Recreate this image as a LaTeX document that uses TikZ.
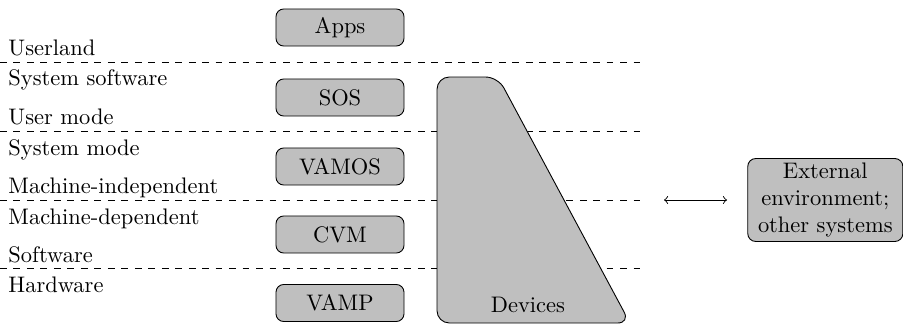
\documentclass[tikz,border=0pt]{standalone}
\begin{document}
\begin{tikzpicture}[x=0.445pt,y=-0.445pt,
  layerbox/.style={draw,fill=black!25,rounded corners=3.5pt,minimum width=57pt,minimum height=16.5pt,inner sep=0pt},
  sep/.style={dashed},
  lbl/.style={anchor=base west,inner sep=0pt}]
\useasboundingbox (0,0) rectangle (903,325);

% layer separators
\foreach \yy/\nm in {62.5/s1,131/s2,200/s3,268.5/s4}{
  \coordinate (\nm a) at (0,\yy);
  \coordinate (\nm b) at (645,\yy);
  \draw[sep] (\nm a) -- (\nm b);
}

% layer labels
\node[lbl] (l1) at (8,55) {Userland};
\node[lbl] (l2) at (8,85) {System software};
\node[lbl] (l3) at (8,124) {User mode};
\node[lbl] (l4) at (8,155) {System mode};
\node[lbl] (l5) at (8,193) {Machine-independent};
\node[lbl] (l6) at (8,224) {Machine-dependent};
\node[lbl] (l7) at (8,262) {Software};
\node[lbl] (l8) at (8,292) {Hardware};

% components
\node[layerbox] (apps)  at (340,27.5)  {Apps};
\node[layerbox] (sos)   at (340,97.5)  {SOS};
\node[layerbox] (vamos) at (340,166.5) {VAMOS};
\node[layerbox] (cvm)   at (340,234.5) {CVM};
\node[layerbox] (vamp)  at (340,303)   {VAMP};

% devices
\draw[fill=black!25,rounded corners=5.5pt] (437,77) -- (498,77) -- (630,323) -- (437,323) -- cycle;
\node (dev) at (528,305) {Devices};

% external environment
\node[layerbox,minimum width=69pt,minimum height=36.9pt,align=center,inner sep=0pt] (ext) at (825.3,200)
  {External\\environment;\\other systems};
\coordinate (arl) at (664,200);
\coordinate (arr) at (727,200);
\draw[<->] (arl) -- (arr);
\end{tikzpicture}
\end{document}
